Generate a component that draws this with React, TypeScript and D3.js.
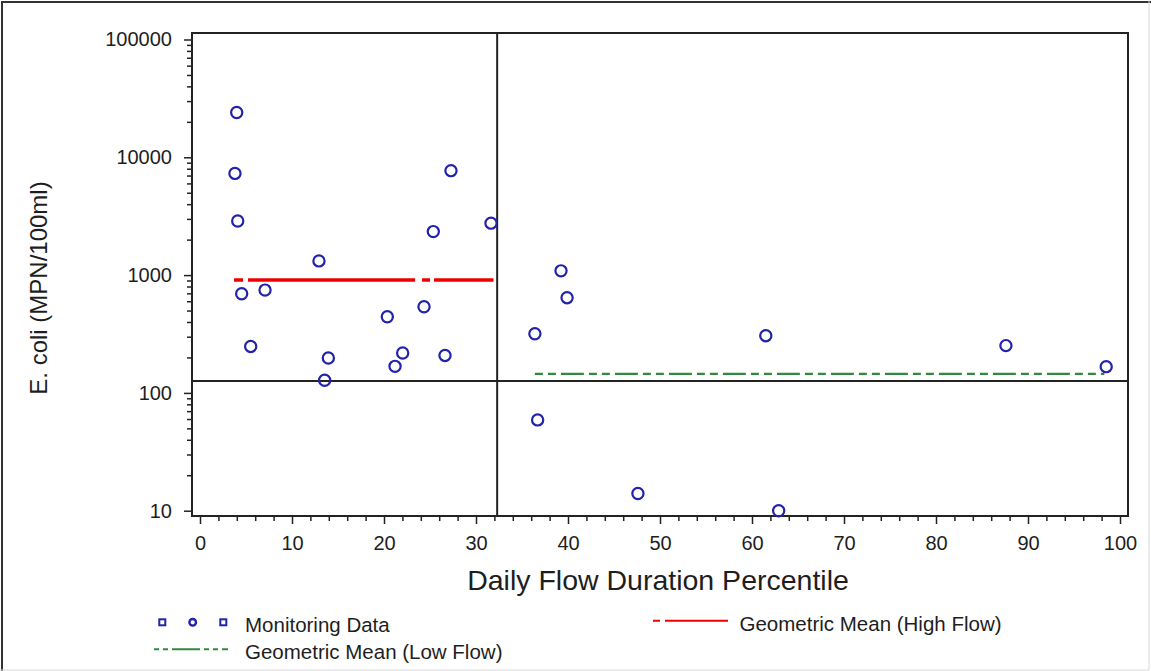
import * as d3 from "d3";
import { useEffect, useRef } from "react";

const WIDTH = 1151;
const HEIGHT = 671;

// monitoring samples
const flowPercentile = [
  3.99, 3.8, 4.1, 4.53, 5.51, 7.07, 12.93, 13.95, 13.55, 20.36, 21.2, 22.03, 24.35,
  25.36, 26.63, 27.28, 31.63, 36.4, 36.7, 39.24, 39.9, 47.6, 61.5, 62.9, 87.6, 98.5,
];
const ecoli = [
  24000, 7300, 2880, 694, 248, 746, 1320, 198, 128, 443, 168, 218, 539, 2340, 208,
  7700, 2760, 318, 59, 1087, 643, 14, 306, 10, 252, 167,
];

const xTicks = [0, 10, 20, 30, 40, 50, 60, 70, 80, 90, 100];
const xMinorTicks = d3.range(2, 100, 2).filter((v) => v % 10 !== 0);
const yTicks = [10, 100, 1000, 10000, 100000];
const yMinorTicks = [10, 100, 1000, 10000].flatMap((d) => [2, 3, 4, 5, 6, 7, 8, 9].map((m) => m * d));

// reference lines
const standardValue = 126;
const flowBreak = 32.3;
const highFlowMean = 910;
const highFlowRange = [3.7, 31.9];
const lowFlowMean = 145;
const lowFlowRange = [36.4, 98.3];

const FONT = "'Liberation Sans', Arial, sans-serif";
const COLORS = {
  text: "#1e1e1e",
  axis: "#222222",
  marker: "#2222aa",
  high: "#ee0000",
  low: "#2f8a3f",
};

const frame = { left: 192, top: 33, right: 1128, bottom: 516 };

const App = () => {
  const svgRef = useRef<SVGSVGElement | null>(null);

  useEffect(() => {
    const svg = d3.select(svgRef.current);
    svg.selectAll("*").remove();

    const x = d3.scaleLinear().domain([0, 100]).range([200, 1120]);
    const y = d3.scaleLog().domain([10, 100000]).range([510.7, 39.5]);

    // outer picture border
    svg.append("rect").attr("width", WIDTH).attr("height", HEIGHT).attr("fill", "#fff");
    svg.append("path").attr("d", `M2,${HEIGHT} V2 H${WIDTH}`).attr("fill", "none")
      .attr("stroke", "#333").attr("stroke-width", 2);
    svg.append("path").attr("d", `M${WIDTH - 2},0 V${HEIGHT - 1} H0`).attr("fill", "none")
      .attr("stroke", "#d8d8d8").attr("stroke-width", 1);

    // axes
    const styleAxis = (g) => {
      g.select(".domain").remove();
      g.selectAll("line").attr("stroke", COLORS.axis).attr("stroke-width", 1.5);
      g.selectAll("text").attr("fill", COLORS.text).attr("font-size", 20).attr("font-family", FONT);
    };

    svg.append("g")
      .attr("transform", `translate(0,${frame.bottom + 1})`)
      .call(d3.axisBottom(x).tickValues(xTicks).tickSize(7).tickPadding(12).tickFormat(d3.format("d")))
      .call(styleAxis);
    svg.append("g")
      .attr("transform", `translate(0,${frame.bottom + 1})`)
      .call(d3.axisBottom(x).tickValues(xMinorTicks).tickSize(4).tickFormat(() => ""))
      .call(styleAxis);

    svg.append("g")
      .attr("transform", `translate(${frame.left - 1},0)`)
      .call(d3.axisLeft(y).tickValues(yTicks).tickSize(7).tickPadding(12).tickFormat(d3.format("d")))
      .call(styleAxis);
    svg.append("g")
      .attr("transform", `translate(${frame.left - 1},0)`)
      .call(d3.axisLeft(y).tickValues(yMinorTicks).tickSize(4).tickFormat(() => ""))
      .call(styleAxis);

    // plot frame
    svg.append("rect")
      .attr("x", frame.left).attr("y", frame.top)
      .attr("width", frame.right - frame.left).attr("height", frame.bottom - frame.top)
      .attr("fill", "none").attr("stroke", COLORS.axis).attr("stroke-width", 2);

    // criterion and flow break lines
    svg.append("line")
      .attr("x1", frame.left).attr("x2", frame.right)
      .attr("y1", y(standardValue)).attr("y2", y(standardValue))
      .attr("stroke", COLORS.axis).attr("stroke-width", 2);
    svg.append("line")
      .attr("x1", x(flowBreak)).attr("x2", x(flowBreak))
      .attr("y1", frame.top).attr("y2", frame.bottom)
      .attr("stroke", COLORS.axis).attr("stroke-width", 2);

    // geometric means
    svg.append("line")
      .attr("x1", x(highFlowRange[0])).attr("x2", x(highFlowRange[1]))
      .attr("y1", y(highFlowMean)).attr("y2", y(highFlowMean))
      .attr("stroke", COLORS.high).attr("stroke-width", 3.5)
      .attr("stroke-dasharray", "9,5,167,7,8,4,400");
    svg.append("line")
      .attr("x1", x(lowFlowRange[0])).attr("x2", x(lowFlowRange[1]))
      .attr("y1", y(lowFlowMean)).attr("y2", y(lowFlowMean))
      .attr("stroke", COLORS.low).attr("stroke-width", 2.2)
      .attr("stroke-dasharray", "8,5,8,5,23,5");

    // monitoring data
    svg.append("g")
      .selectAll("circle")
      .data(flowPercentile)
      .join("circle")
      .attr("cx", (d) => x(d))
      .attr("cy", (d, i) => y(ecoli[i]))
      .attr("r", 5.6)
      .attr("fill", "none")
      .attr("stroke", COLORS.marker)
      .attr("stroke-width", 2.2);

    // axis titles
    svg.append("text")
      .attr("x", 658).attr("y", 590)
      .attr("text-anchor", "middle")
      .attr("font-size", 28.5).attr("font-family", FONT).attr("fill", COLORS.text)
      .text("Daily Flow Duration Percentile");
    svg.append("text")
      .attr("transform", "translate(47,288) rotate(-90)")
      .attr("text-anchor", "middle")
      .attr("font-size", 24).attr("font-family", FONT).attr("fill", COLORS.text)
      .text("E. coli (MPN/100ml)");

    // legend
    const legend = svg.append("g")
      .attr("font-size", 20.5).attr("font-family", FONT).attr("fill", COLORS.text);

    [162.3, 223.3].forEach((cx) =>
      legend.append("rect")
        .attr("x", cx - 3).attr("y", 619.3).attr("width", 6).attr("height", 6)
        .attr("fill", "none").attr("stroke", COLORS.marker).attr("stroke-width", 2)
    );
    legend.append("circle")
      .attr("cx", 192.7).attr("cy", 622.3).attr("r", 3.3)
      .attr("fill", "none").attr("stroke", COLORS.marker).attr("stroke-width", 2.4);
    legend.append("text").attr("x", 245).attr("y", 631.5).text("Monitoring Data");

    legend.append("line")
      .attr("x1", 154).attr("x2", 233).attr("y1", 649.3).attr("y2", 649.3)
      .attr("stroke", COLORS.low).attr("stroke-width", 2)
      .attr("stroke-dasharray", "5,4,5,4,28,4,5,4,5,4,6");
    legend.append("text").attr("x", 245).attr("y", 658.5).text("Geometric Mean (Low Flow)");

    legend.append("line")
      .attr("x1", 653).attr("x2", 728).attr("y1", 620.7).attr("y2", 620.7)
      .attr("stroke", COLORS.high).attr("stroke-width", 2)
      .attr("stroke-dasharray", "7,5,100");
    legend.append("text").attr("x", 739.5).attr("y", 631).text("Geometric Mean (High Flow)");
  }, []);

  return (
    <svg
      ref={svgRef}
      width={WIDTH}
      height={HEIGHT}
      style={{ position: "absolute", left: 0, top: 0, display: "block" }}
    />
  );
};

export default App;
